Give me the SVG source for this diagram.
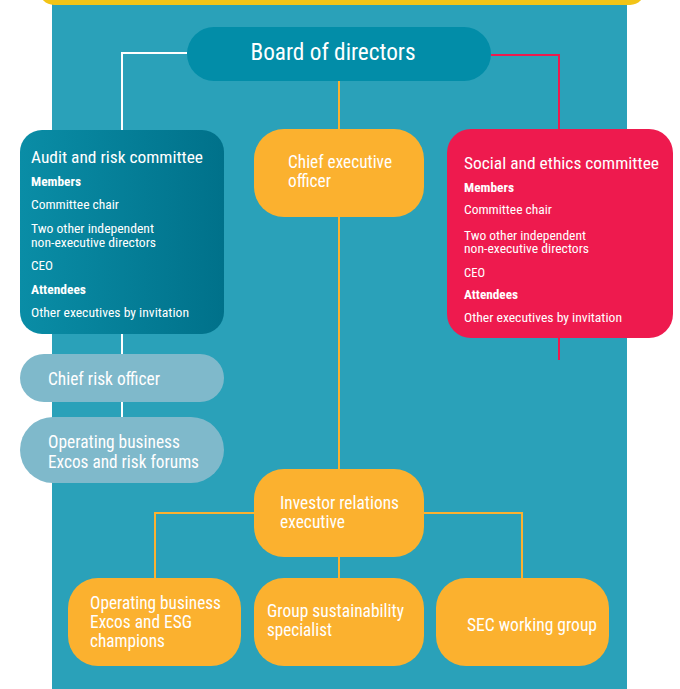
<svg xmlns="http://www.w3.org/2000/svg" width="680" height="689" viewBox="0 0 680 689">
<defs>
<linearGradient id="auditGrad" x1="0" y1="0" x2="1" y2="0">
<stop offset="0" stop-color="#0A8DA6"/>
<stop offset="1" stop-color="#00718A"/>
</linearGradient>
</defs>
<style>
text { font-family: "Roboto Condensed", Roboto, "Liberation Sans", sans-serif; fill: #ffffff; }
.t { font-size: 17.5px; }
.title { font-size: 16.5px; }
.sm { font-size: 12px; }
.b { font-weight: bold; }
.yel { fill: #FBB12F; }
.pale { fill: #7FB9CB; }
.cw { stroke: #ffffff; stroke-width: 2; fill: none; }
.cy { stroke: #FBB12F; stroke-width: 2; fill: none; }
.cr { stroke: #EE1A4E; stroke-width: 2; fill: none; }
</style>
<rect x="0" y="0" width="680" height="689" fill="#ffffff"/>
<rect x="52" y="0" width="575" height="689" fill="#2AA1B9"/>
<rect x="39" y="-25" width="606" height="30" rx="15" fill="#F2C417"/>

<g id="connectors">
<path class="cw" d="M187,53 H122 V130"/>
<path class="cw" d="M122,333 V354"/>
<path class="cw" d="M122,402 V418"/>
<path class="cr" d="M491,55 H559 V130"/>
<path class="cr" d="M559,338 V360"/>
<path class="cy" d="M339,81 V130"/>
<path class="cy" d="M339,216 V470"/>
<path class="cy" d="M254,513 H155 V578"/>
<path class="cy" d="M424,513 H522 V578"/>
<path class="cy" d="M339,556 V578"/>
</g>

<g id="board">
<rect x="187" y="27" width="304" height="54" rx="27" fill="#028DA8"/>
<text x="333" y="60" font-size="24" text-anchor="middle" textLength="165" lengthAdjust="spacingAndGlyphs">Board of directors</text>
</g>

<g id="audit">
<rect x="20" y="130" width="204" height="204" rx="22" fill="url(#auditGrad)"/>
<text class="title" x="31" y="163" textLength="172" lengthAdjust="spacingAndGlyphs">Audit and risk committee</text>
<text class="sm b" x="31" y="186" textLength="50" lengthAdjust="spacingAndGlyphs">Members</text>
<text class="sm" x="31" y="209" textLength="88" lengthAdjust="spacingAndGlyphs">Committee chair</text>
<text class="sm" x="31" y="233" textLength="123" lengthAdjust="spacingAndGlyphs">Two other independent</text>
<text class="sm" x="31" y="247" textLength="125" lengthAdjust="spacingAndGlyphs">non-executive directors</text>
<text class="sm" x="31" y="270" textLength="22" lengthAdjust="spacingAndGlyphs">CEO</text>
<text class="sm b" x="31" y="294" textLength="55" lengthAdjust="spacingAndGlyphs">Attendees</text>
<text class="sm" x="31" y="317" textLength="158" lengthAdjust="spacingAndGlyphs">Other executives by invitation</text>
</g>

<g id="ceo">
<rect class="yel" x="254" y="129" width="170" height="88" rx="30"/>
<text class="t" x="288" y="168" textLength="104" lengthAdjust="spacingAndGlyphs">Chief executive</text>
<text class="t" x="288" y="187" textLength="43" lengthAdjust="spacingAndGlyphs">officer</text>
</g>

<g id="social">
<rect x="447" y="129" width="226" height="209" rx="24" fill="#EE1A4E"/>
<text class="title" x="464" y="169" textLength="195" lengthAdjust="spacingAndGlyphs">Social and ethics committee</text>
<text class="sm b" x="464" y="192" textLength="50" lengthAdjust="spacingAndGlyphs">Members</text>
<text class="sm" x="464" y="214" textLength="88" lengthAdjust="spacingAndGlyphs">Committee chair</text>
<text class="sm" x="464" y="240" textLength="122" lengthAdjust="spacingAndGlyphs">Two other independent</text>
<text class="sm" x="464" y="253" textLength="125" lengthAdjust="spacingAndGlyphs">non-executive directors</text>
<text class="sm" x="464" y="277" textLength="21" lengthAdjust="spacingAndGlyphs">CEO</text>
<text class="sm b" x="464" y="299" textLength="54" lengthAdjust="spacingAndGlyphs">Attendees</text>
<text class="sm" x="464" y="322" textLength="158" lengthAdjust="spacingAndGlyphs">Other executives by invitation</text>
</g>

<g id="cro">
<rect class="pale" x="20" y="354" width="204" height="48" rx="24"/>
<text class="t" x="48" y="385" textLength="112" lengthAdjust="spacingAndGlyphs">Chief risk officer</text>
</g>

<g id="opexcos-risk">
<rect class="pale" x="20" y="417" width="204" height="66" rx="33"/>
<text class="t" x="48" y="448" textLength="132" lengthAdjust="spacingAndGlyphs">Operating business</text>
<text class="t" x="48" y="468" textLength="151" lengthAdjust="spacingAndGlyphs">Excos and risk forums</text>
</g>

<g id="investor">
<rect class="yel" x="254" y="469" width="170" height="88" rx="30"/>
<text class="t" x="280" y="509" textLength="119" lengthAdjust="spacingAndGlyphs">Investor relations</text>
<text class="t" x="280" y="528" textLength="65" lengthAdjust="spacingAndGlyphs">executive</text>
</g>

<g id="opexcos-esg">
<rect class="yel" x="68" y="578" width="173" height="88" rx="30"/>
<text class="t" x="90" y="609" textLength="131" lengthAdjust="spacingAndGlyphs">Operating business</text>
<text class="t" x="90" y="628" textLength="102" lengthAdjust="spacingAndGlyphs">Excos and ESG</text>
<text class="t" x="90" y="647" textLength="75" lengthAdjust="spacingAndGlyphs">champions</text>
</g>

<g id="sustainability">
<rect class="yel" x="254" y="578" width="170" height="88" rx="30"/>
<text class="t" x="267" y="617" textLength="137" lengthAdjust="spacingAndGlyphs">Group sustainability</text>
<text class="t" x="267" y="636" textLength="65" lengthAdjust="spacingAndGlyphs">specialist</text>
</g>

<g id="sec">
<rect class="yel" x="436" y="578" width="173" height="88" rx="30"/>
<text class="t" x="467" y="631" textLength="130" lengthAdjust="spacingAndGlyphs">SEC working group</text>
</g>
</svg>
